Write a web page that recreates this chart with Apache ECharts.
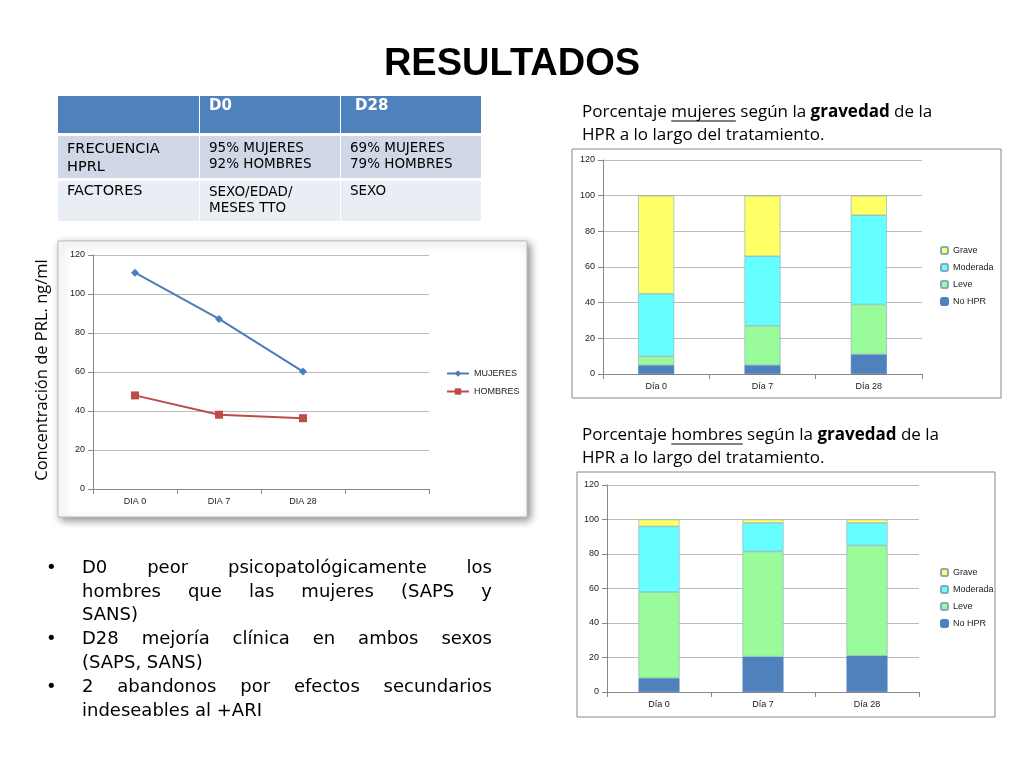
<!DOCTYPE html>
<html><head><meta charset="utf-8">
<script src="https://cdn.jsdelivr.net/npm/echarts@6/dist/echarts.min.js"></script>
<style>html,body{margin:0;padding:0;background:#fff}#c{width:1024px;height:768px}</style>
</head><body><div id="c"></div>
<script>
const lineCats = ['DIA 0','DIA 7','DIA 28',''];
const mujeresPRL = [110.9, 87.2, 60.2];
const hombresPRL = [48, 38.1, 36.3];
const barCats = ['Día 0','Día 7','Día 28'];
const mujNoHPR = [5, 5, 11];
const mujLeve = [5, 22, 28];
const mujModerada = [35, 39, 50];
const mujGrave = [55, 34, 11];
const homNoHPR = [8, 20.5, 21];
const homLeve = [50, 61, 64];
const homModerada = [38, 16.5, 13];
const homGrave = [4, 2, 2];
const sevNames = ['No HPR','Leve','Moderada','Grave'];
const sevColors = ['#4f81bd','#99fb99','#66ffff','#ffff66'];

const F = 'Liberation Sans';
const chart = echarts.init(document.getElementById('c'));
const mctx = document.createElement('canvas').getContext('2d');
function mw(t,font){mctx.font=font;return mctx.measureText(t).width;}

function txt(x,y,t,o){return Object.assign({type:'text',left:x,top:y,style:Object.assign({text:t,font:'16px "Liberation Sans"',fill:'#000'},o||{})});}
function rect(x,y,w,h,fill,o){return Object.assign({type:'rect',shape:{x:x,y:y,width:w,height:h},style:Object.assign({fill:fill},o||{})});}
function hl(x1,x2,y){return {type:'line',shape:{x1:x1,y1:y,x2:x2,y2:y},style:{stroke:'#000',lineWidth:1}};}

const g = [];
g.push(rect(58,241,469,276,'#fff',{stroke:'#bbb',lineWidth:1,shadowBlur:8,shadowColor:'rgba(0,0,0,0.45)',shadowOffsetX:3,shadowOffsetY:3}));
g.push(rect(572,149,429,249,'#fff',{stroke:'#888',lineWidth:1}));
g.push(rect(577,472,418,245,'#fff',{stroke:'#888',lineWidth:1}));
g.push(rect(58,96,141,37,'#4f81bd'),rect(200,96,140,37,'#4f81bd'),rect(341,96,140,37,'#4f81bd'));
g.push(rect(58,136,141,42,'#d0d8e8'),rect(200,136,140,42,'#d0d8e8'),rect(341,136,140,42,'#d0d8e8'));
g.push(rect(58,181,141,40,'#e9edf4'),rect(200,181,140,40,'#e9edf4'),rect(341,181,140,40,'#e9edf4'));
const tf = '14.5px "DejaVu Sans"';
g.push(txt(209,99,'D0',{font:'bold 15px "DejaVu Sans"',fill:'#fff'}));
g.push(txt(355,99,'D28',{font:'bold 15px "DejaVu Sans"',fill:'#fff'}));
g.push(txt(67,140,'FRECUENCIA\nHPRL',{font:tf,lineHeight:18}));
g.push(txt(209,140,'95% MUJERES\n92% HOMBRES',{font:'13.5px "DejaVu Sans"',lineHeight:16}));
g.push(txt(350,140,'69% MUJERES\n79% HOMBRES',{font:'13.5px "DejaVu Sans"',lineHeight:16}));
g.push(txt(67,184,'FACTORES',{font:tf}));
g.push(txt(209,184,'SEXO/EDAD/\nMESES TTO',{font:'13.5px "DejaVu Sans"',lineHeight:16}));
g.push(txt(350,184,'SEXO',{font:'13.5px "DejaVu Sans"'}));
g.push({type:'text',left:'center',top:46,style:{text:'RESULTADOS',font:'bold 38px "Liberation Sans"',fill:'#000'}});
// captions
const cf = '17px "Open Sans"', cb = 'bold 17px "Open Sans"';
[['mujeres',101],['hombres',424]].forEach(([w,y])=>{
  g.push({type:'text',left:582,top:y,style:{text:'Porcentaje '+w+' según la {b|gravedad} de la\nHPR a lo largo del tratamiento.',font:cf,lineHeight:23,rich:{b:{font:cb}}}});
  const x1 = 582 + mw('Porcentaje ',cf), x2 = x1 + mw(w,cf);
  g.push(hl(x1,x2,y+20));
});
g.push({type:'text',x:42,y:370,rotation:Math.PI/2,style:{text:'Concentración de PRL. ng/ml',font:'16.5px "Open Sans"',fill:'#000',align:'center',verticalAlign:'middle'}});
// bullets (justified lines)
const bf = '18px "DejaVu Sans"';
const bl = [['D0 peor psicopatológicamente los',570,true,true],['hombres que las mujeres (SAPS y',594,false,true],['SANS)',617],['D28 mejoría clínica en ambos sexos',641,true,true],['(SAPS, SANS)',665],['2 abandonos por efectos secundarios',689,true,true],['indeseables al +ARI',713]];
bl.forEach(b=>{
  if(b[2]) g.push(txt(46,b[1]-11,'•',{font:bf}));
  if(b[3]){
    const words=b[0].split(' ');
    const tot=words.reduce((s,w)=>s+mw(w,bf),0);
    const gap=(492-82-tot)/(words.length-1);
    let x=82;
    words.forEach(w=>{g.push(txt(x,b[1]-11,w,{font:bf}));x+=mw(w,bf)+gap;});
  } else g.push(txt(82,b[1]-11,b[0],{font:bf}));
});

const axLbl = {fontFamily:F,fontSize:9,color:'#222'};
const grid = [
  {left:93,top:255,width:336,height:234},
  {left:603,top:160,width:319,height:214},
  {left:607,top:485,width:312,height:207}
];
function cx(i,data){return {type:'category',gridIndex:i,data:data,axisLine:{lineStyle:{color:'#888'}},axisTick:{show:true,lineStyle:{color:'#888'}},axisLabel:Object.assign({margin:8},axLbl)};}
function vy(i){return {type:'value',gridIndex:i,min:0,max:120,interval:20,axisLine:{show:true,lineStyle:{color:'#888'}},axisTick:{show:true,lineStyle:{color:'#888'}},axisLabel:axLbl,splitLine:{lineStyle:{color:'#bbb'}}};}
const series = [
  {name:'MUJERES',type:'line',xAxisIndex:0,yAxisIndex:0,data:mujeresPRL,color:'#4a7ebb',symbol:'diamond',symbolSize:8,lineStyle:{width:2}},
  {name:'HOMBRES',type:'line',xAxisIndex:0,yAxisIndex:0,data:hombresPRL,color:'#be4b48',symbol:'rect',symbolSize:8,lineStyle:{width:2}}
];
const mj=[mujNoHPR,mujLeve,mujModerada,mujGrave], hm=[homNoHPR,homLeve,homModerada,homGrave];
sevNames.forEach((n,k)=>{
  series.push({name:n,type:'bar',stack:'m',xAxisIndex:1,yAxisIndex:1,data:mj[k],barWidth:36,color:sevColors[k],itemStyle:{borderColor:k==0?'#4f81bd':'#8ab',borderWidth:0.6}});
  series.push({name:n,type:'bar',stack:'h',xAxisIndex:2,yAxisIndex:2,data:hm[k],barWidth:41,color:sevColors[k],itemStyle:{borderColor:k==0?'#4f81bd':'#8ab',borderWidth:0.6}});
});
const legTxt={fontFamily:F,fontSize:9,color:'#222'};
chart.setOption({
  animation:false,
  graphic:g,
  grid:grid,
  xAxis:[cx(0,lineCats),cx(1,barCats),cx(2,barCats)],
  yAxis:[vy(0),vy(1),vy(2)],
  legend:[
    {left:441,top:364,orient:'vertical',data:['MUJERES','HOMBRES'],itemWidth:22,itemHeight:8,itemGap:9,textStyle:legTxt},
    {left:935,top:241,orient:'vertical',data:['Grave','Moderada','Leve','No HPR'],itemWidth:7,itemHeight:7,itemGap:8,textStyle:legTxt},
    {left:935,top:563,orient:'vertical',data:['Grave','Moderada','Leve','No HPR'],itemWidth:7,itemHeight:7,itemGap:8,textStyle:legTxt}
  ],
  series:series
});
</script></body></html>
